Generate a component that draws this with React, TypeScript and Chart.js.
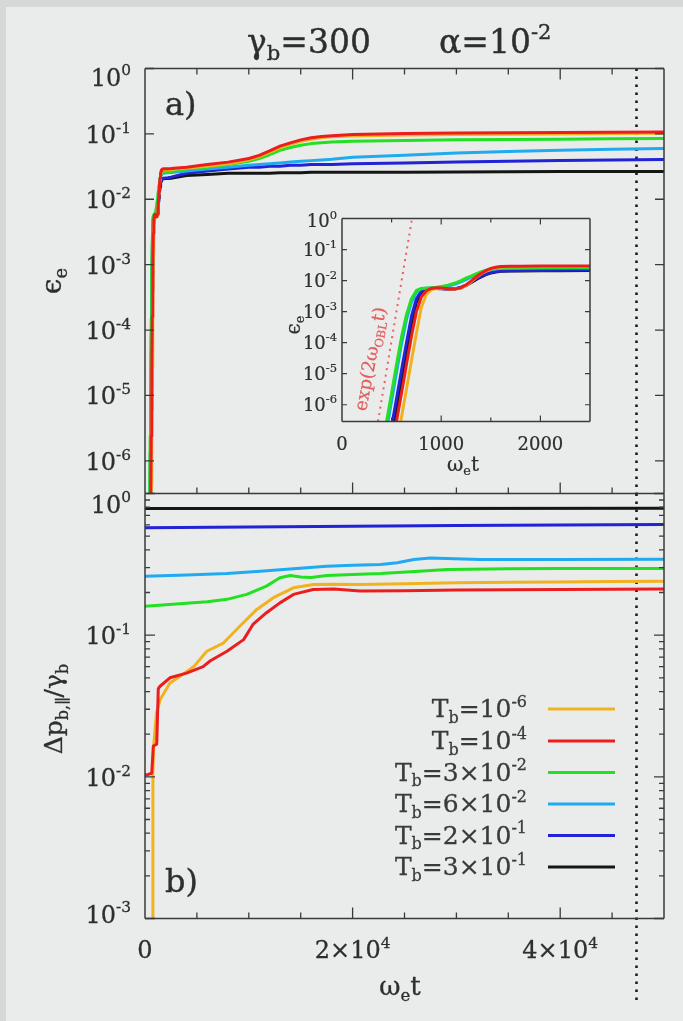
import React, { useEffect, useRef } from "react";
import { Chart, registerables } from "chart.js";

Chart.register(...registerables);

// ---------------- data ----------------
const seriesColors = ["#f0b21e", "#ec1d1d", "#22e022", "#20aaf0", "#2222d6", "#151515"];
const seriesOrder = [1, 0, 2, 3, 4, 5];
const legendCoeff = ["", "", "3×", "6×", "2×", "3×"];
const legendExp = ["-6", "-4", "-2", "-2", "-1", "-1"];

// inset (early growth), shared with the start of panel a
const insetTime = [0, 350, 400, 450, 500, 550, 600, 650, 700, 750, 800, 850, 900, 950, 1000, 1050, 1100, 1150, 1200, 1250, 1300, 1350, 1400, 1450, 1500, 1550, 1600, 1700, 1800, 2000, 2200, 2500];
const insetOrange = [1e-12, 1e-11, 1e-10, 8e-10, 6e-9, 5e-8, 4e-7, 3.2e-6, 2.6e-5, 2e-4, 1.4e-3, 3.6e-3, 5e-3, 5.6e-3, 5.7e-3, 5.6e-3, 5.4e-3, 5.4e-3, 5.7e-3, 6.8e-3, 9e-3, 1.25e-2, 1.63e-2, 2e-2, 2.33e-2, 2.58e-2, 2.72e-2, 2.78e-2, 2.8e-2, 2.82e-2, 2.83e-2, 2.84e-2];
const insetRed = [1e-12, 5e-11, 6e-10, 5e-9, 4e-8, 3e-7, 2.4e-6, 2e-5, 1.6e-4, 1e-3, 3e-3, 4.7e-3, 5.6e-3, 5.9e-3, 5.8e-3, 5.6e-3, 5.4e-3, 5.4e-3, 5.9e-3, 7.2e-3, 9.6e-3, 1.3e-2, 1.7e-2, 2.1e-2, 2.45e-2, 2.7e-2, 2.83e-2, 2.9e-2, 2.92e-2, 2.93e-2, 2.94e-2, 2.95e-2];
const insetGreen = [1e-12, 3e-9, 4e-8, 3e-7, 2.4e-6, 2e-5, 1.5e-4, 8e-4, 2.6e-3, 4.8e-3, 5.6e-3, 5.8e-3, 5.9e-3, 6.1e-3, 6.4e-3, 6.9e-3, 7.6e-3, 8.6e-3, 1e-2, 1.2e-2, 1.4e-2, 1.65e-2, 1.9e-2, 2.15e-2, 2.35e-2, 2.45e-2, 2.5e-2, 2.55e-2, 2.57e-2, 2.6e-2, 2.62e-2, 2.65e-2];
const insetLightBlue = [1e-12, 1.5e-9, 2e-8, 1.6e-7, 1.3e-6, 1.1e-5, 9e-5, 5.5e-4, 2e-3, 4.2e-3, 5.4e-3, 5.7e-3, 5.8e-3, 5.9e-3, 6.1e-3, 6.5e-3, 7.1e-3, 7.9e-3, 9.1e-3, 1.08e-2, 1.28e-2, 1.52e-2, 1.78e-2, 2.02e-2, 2.22e-2, 2.36e-2, 2.43e-2, 2.48e-2, 2.5e-2, 2.52e-2, 2.54e-2, 2.56e-2];
const insetBlue = [1e-12, 2e-10, 3e-9, 2.5e-8, 2e-7, 1.6e-6, 1.3e-5, 1e-4, 7e-4, 2.6e-3, 4.7e-3, 5.5e-3, 5.7e-3, 5.7e-3, 5.6e-3, 5.5e-3, 5.5e-3, 5.6e-3, 6.1e-3, 7.1e-3, 8.8e-3, 1.1e-2, 1.35e-2, 1.6e-2, 1.8e-2, 1.95e-2, 2.03e-2, 2.08e-2, 2.1e-2, 2.12e-2, 2.14e-2, 2.18e-2];
const insetBlack = [1e-12, 8e-11, 1.2e-9, 1e-8, 8e-8, 7e-7, 6e-6, 5e-5, 4e-4, 2e-3, 4.3e-3, 5.3e-3, 5.6e-3, 5.6e-3, 5.5e-3, 5.4e-3, 5.4e-3, 5.5e-3, 5.9e-3, 6.9e-3, 8.5e-3, 1.06e-2, 1.3e-2, 1.55e-2, 1.75e-2, 1.9e-2, 1.98e-2, 2.03e-2, 2.05e-2, 2.07e-2, 2.08e-2, 2.1e-2];

// panel a, later times
const lateTime = [4000, 6000, 8000, 10000, 11000, 12000, 13000, 14000, 15000, 16000, 17000, 18000, 20000, 25000, 30000, 35000, 40000, 45000, 50000];
const lateOrange = [0.030, 0.032, 0.035, 0.040, 0.045, 0.052, 0.061, 0.069, 0.077, 0.083, 0.087, 0.090, 0.093, 0.096, 0.098, 0.099, 0.1, 0.101, 0.102];
const lateRed = [0.031, 0.034, 0.037, 0.042, 0.047, 0.055, 0.065, 0.073, 0.081, 0.087, 0.091, 0.094, 0.098, 0.101, 0.103, 0.104, 0.105, 0.106, 0.107];
const lateGreen = [0.029, 0.031, 0.034, 0.038, 0.042, 0.048, 0.056, 0.062, 0.067, 0.071, 0.073, 0.075, 0.077, 0.079, 0.081, 0.082, 0.083, 0.084, 0.085];
const lateLightBlue = [0.027, 0.029, 0.031, 0.033, 0.034, 0.035, 0.036, 0.037, 0.038, 0.039, 0.040, 0.041, 0.044, 0.047, 0.051, 0.054, 0.056, 0.058, 0.060];
const lateBlue = [0.025, 0.027, 0.029, 0.031, 0.031, 0.032, 0.032, 0.033, 0.033, 0.034, 0.034, 0.034, 0.035, 0.036, 0.037, 0.038, 0.039, 0.040, 0.0405];
const lateBlack = [0.023, 0.024, 0.025, 0.025, 0.025, 0.025, 0.0255, 0.0255, 0.0255, 0.026, 0.026, 0.026, 0.026, 0.026, 0.0262, 0.0264, 0.0265, 0.0266, 0.0267];

// panel b: momentum spread
const bTimeOrange = [0, 300, 700, 760, 850, 1100, 1450, 2400, 3500, 4700, 5950, 7550, 9160, 10770, 12370, 14300, 16230, 18000, 20700, 25000, 30000, 35000, 40000, 45000, 50000];
const bOrange = [1e-6, 1e-5, 2e-4, 0.011, 0.017, 0.028, 0.035, 0.046, 0.052, 0.060, 0.077, 0.088, 0.116, 0.152, 0.184, 0.216, 0.228, 0.229, 0.228, 0.231, 0.234, 0.236, 0.237, 0.239, 0.240];
const bTimeRed = [0, 300, 650, 800, 1130, 1280, 1450, 2400, 4000, 5600, 6300, 7900, 9500, 10400, 11700, 13000, 14300, 16200, 18200, 20700, 25000, 30000, 35000, 40000, 45000, 50000];
const bRed = [0.0103, 0.0104, 0.0106, 0.0165, 0.017, 0.042, 0.0436, 0.050, 0.054, 0.060, 0.066, 0.077, 0.093, 0.119, 0.144, 0.169, 0.194, 0.210, 0.212, 0.205, 0.206, 0.208, 0.209, 0.210, 0.211, 0.212];
const bTimeGreen = [0, 3000, 6000, 7900, 9800, 11700, 13000, 14000, 15000, 16000, 17500, 20000, 22700, 26000, 29100, 35000, 40000, 45000, 50000];
const bGreen = [0.16, 0.166, 0.172, 0.179, 0.194, 0.222, 0.254, 0.264, 0.257, 0.255, 0.264, 0.268, 0.272, 0.282, 0.291, 0.294, 0.295, 0.296, 0.296];
const bTimeLightBlue = [0, 4000, 7900, 11100, 14300, 17500, 20000, 22700, 24300, 25900, 27500, 29000, 32300, 40000, 50000];
const bLightBlue = [0.261, 0.266, 0.272, 0.283, 0.294, 0.307, 0.312, 0.315, 0.324, 0.342, 0.35, 0.347, 0.342, 0.342, 0.343];
const bTimeBlue = [0, 10000, 20000, 30000, 40000, 50000];
const bBlue = [0.573, 0.58, 0.588, 0.595, 0.6, 0.604];
const bTimeBlack = [0, 25000, 50000];
const bBlack = [0.785, 0.785, 0.787];

// reference lines
const verticalTime = [47350, 47350];
const verticalA = [1, 3.16e-7];
const verticalB = [1, 1e-4];
const expTime = [363, 706];
const expValue = [2.9e-7, 1];

// ticks
const xTicks = [5000, 10000, 15000, 20000, 25000, 30000, 35000, 40000, 45000];
const xMajorTicks = [20000, 40000];
const xLabelValues = [0, 20000, 40000];
const xLabelCoeff = ["0", "2×10", "4×10"];
const xLabelExp = ["", "4", "4"];
const aDecades = [0, -1, -2, -3, -4, -5, -6];
const bDecades = [0, -1, -2, -3];
const insetDecades = [0, -1, -2, -3, -4, -5, -6];
const insetXLabels = [0, 1000, 2000];
const insetXTicks = [500, 1000, 1500, 2000];

// ---------------- drawing helpers ----------------
const FONT = '"DejaVu Serif", serif';
const INK = "#2e2e2e";
const AXIS = "#3a3a3a";

type Seg = { t: string; k?: "sub" | "sup" };

function segFont(size: number, k?: string) {
  return `${k ? size * 0.64 : size}px ${FONT}`;
}
function richWidth(ctx: CanvasRenderingContext2D, segs: Seg[], size: number) {
  let w = 0;
  for (const s of segs) {
    ctx.font = segFont(size, s.k);
    w += ctx.measureText(s.t).width;
  }
  return w;
}
function drawRich(ctx: CanvasRenderingContext2D, segs: Seg[], x: number, y: number, size: number, align: "left" | "right" | "center" = "left", color = INK) {
  const w = richWidth(ctx, segs, size);
  let cx = align === "left" ? x : align === "right" ? x - w : x - w / 2;
  ctx.fillStyle = color;
  ctx.strokeStyle = color;
  ctx.lineWidth = size * 0.012;
  ctx.lineJoin = "round";
  ctx.textBaseline = "alphabetic";
  ctx.textAlign = "left";
  for (const s of segs) {
    ctx.font = segFont(size, s.k);
    const dy = s.k === "sup" ? -size * 0.42 : s.k === "sub" ? size * 0.22 : 0;
    ctx.fillText(s.t, cx, y + dy);
    ctx.strokeText(s.t, cx, y + dy);
    cx += ctx.measureText(s.t).width;
  }
}
function drawRichRotated(ctx: CanvasRenderingContext2D, segs: Seg[], x: number, y: number, size: number, angle: number, color = INK) {
  ctx.save();
  ctx.translate(x, y);
  ctx.rotate(angle);
  drawRich(ctx, segs, 0, 0, size, "center", color);
  ctx.restore();
}
const tenPow = (e: number): Seg[] => [{ t: "10" }, { t: String(e), k: "sup" }];

function pts(xs: number[], ys: number[]) {
  return xs.map((x, i) => ({ x, y: ys[i] }));
}

function lineDataset(data: { x: number; y: number }[], i: number) {
  return {
    data,
    borderColor: seriesColors[i],
    backgroundColor: seriesColors[i],
    borderWidth: 3,
    pointRadius: 0,
    tension: 0,
    fill: false,
    order: seriesOrder[i],
    clip: 0,
    borderJoinStyle: "round" as const,
  };
}

function baseOptions(padding: any, xMax: number, yMin: number, yMax: number) {
  return {
    animation: false as const,
    responsive: false,
    maintainAspectRatio: false,
    events: [] as any[],
    layout: { padding },
    scales: {
      x: { type: "linear" as const, min: 0, max: xMax, display: false },
      y: { type: "logarithmic" as const, min: yMin, max: yMax, display: false },
    },
    plugins: { legend: { display: false }, tooltip: { enabled: false }, title: { display: false } },
  };
}

function strokeFrame(ctx: CanvasRenderingContext2D, ca: any, sides: { top?: boolean; bottom?: boolean }) {
  ctx.strokeStyle = AXIS;
  ctx.lineWidth = 1.5;
  ctx.beginPath();
  ctx.moveTo(ca.left, ca.top);
  ctx.lineTo(ca.left, ca.bottom);
  ctx.moveTo(ca.right, ca.top);
  ctx.lineTo(ca.right, ca.bottom);
  if (sides.top !== false) {
    ctx.moveTo(ca.left, ca.top);
    ctx.lineTo(ca.right, ca.top);
  }
  if (sides.bottom !== false) {
    ctx.moveTo(ca.left, ca.bottom);
    ctx.lineTo(ca.right, ca.bottom);
  }
  ctx.stroke();
}

const panelAPlugin = {
  id: "panelA",
  afterDatasetsDraw(chart: any) {
    const { ctx, chartArea: ca, scales } = chart;
    const x = scales.x, y = scales.y;
    ctx.save();
    strokeFrame(ctx, ca, {});
    ctx.lineWidth = 1.3;
    ctx.beginPath();
    for (const v of xTicks) {
      const px = x.getPixelForValue(v);
      const len = xMajorTicks.includes(v) ? 11 : 6;
      ctx.moveTo(px, ca.top);
      ctx.lineTo(px, ca.top + len);
      ctx.moveTo(px, ca.bottom);
      ctx.lineTo(px, ca.bottom - len);
    }
    for (const e of aDecades) {
      const py = y.getPixelForValue(10 ** e);
      ctx.moveTo(ca.left, py);
      ctx.lineTo(ca.left + 9, py);
      ctx.moveTo(ca.right, py);
      ctx.lineTo(ca.right - 9, py);
    }
    ctx.stroke();
    for (const e of aDecades) {
      const py = y.getPixelForValue(10 ** e);
      drawRich(ctx, tenPow(e), 131, py + (e === 0 ? 17 : 9), 24, "right");
    }
    // title
    drawRich(ctx, [{ t: "γ" }, { t: "b", k: "sub" }, { t: "=300" }], 247, 53, 33, "left");
    drawRich(ctx, [{ t: "α=10" }, { t: "-2", k: "sup" }], 439, 53, 33, "left");
    // panel label & axis title
    drawRich(ctx, [{ t: "a)" }], 165, 115, 32, "left");
    drawRichRotated(ctx, [{ t: "ϵ" }, { t: "e", k: "sub" }], 61, 281, 28, -Math.PI / 2);
    ctx.restore();
  },
};

const panelBPlugin = {
  id: "panelB",
  afterDatasetsDraw(chart: any) {
    const { ctx, chartArea: ca, scales } = chart;
    const x = scales.x, y = scales.y;
    ctx.save();
    strokeFrame(ctx, ca, { top: false });
    ctx.lineWidth = 1.3;
    ctx.beginPath();
    for (const v of xTicks) {
      const px = x.getPixelForValue(v);
      const len = xMajorTicks.includes(v) ? 11 : 6;
      ctx.moveTo(px, ca.bottom);
      ctx.lineTo(px, ca.bottom - len);
    }
    for (const e of bDecades) {
      for (let m = 1; m <= 9; m++) {
        const val = m * 10 ** e;
        if (val > 1.0001 || val < 0.00099) continue;
        const py = y.getPixelForValue(val);
        const len = m === 1 ? 10 : 5;
        ctx.moveTo(ca.left, py);
        ctx.lineTo(ca.left + len, py);
        ctx.moveTo(ca.right, py);
        ctx.lineTo(ca.right - len, py);
      }
    }
    ctx.stroke();
    for (const e of bDecades) {
      const py = y.getPixelForValue(10 ** e);
      drawRich(ctx, tenPow(e), 131, py + (e === 0 ? 19 : e === -3 ? 4 : 9), 24, "right");
    }
    xLabelValues.forEach((v, i) => {
      const px = x.getPixelForValue(v);
      const segs: Seg[] = [{ t: xLabelCoeff[i] }];
      if (xLabelExp[i]) segs.push({ t: xLabelExp[i], k: "sup" });
      drawRich(ctx, segs, px, 958, 24, "center");
    });
    drawRich(ctx, [{ t: "ω" }, { t: "e", k: "sub" }, { t: "t" }], 400, 995, 26, "center");
    drawRich(ctx, [{ t: "b)" }], 165, 892, 32, "left");
    drawRichRotated(
      ctx,
      [{ t: "Δp" }, { t: "b,∥", k: "sub" }, { t: "/γ" }, { t: "b", k: "sub" }],
      62,
      709,
      25,
      -Math.PI / 2
    );
    // legend
    const rows = [709, 741, 772.5, 804, 835.5, 867];
    seriesColors.forEach((c, i) => {
      const segs: Seg[] = [{ t: "T" }, { t: "b", k: "sub" }, { t: "=" + legendCoeff[i] + "10" }, { t: legendExp[i], k: "sup" }];
      drawRich(ctx, segs, 527, rows[i] + 8, 25, "right", "#3a3a3a");
      ctx.strokeStyle = c;
      ctx.lineWidth = 3;
      ctx.beginPath();
      ctx.moveTo(548, rows[i]);
      ctx.lineTo(615, rows[i]);
      ctx.stroke();
    });
    ctx.restore();
  },
};

const insetPlugin = {
  id: "inset",
  afterDatasetsDraw(chart: any) {
    const { ctx, chartArea: ca, scales } = chart;
    const x = scales.x, y = scales.y;
    ctx.save();
    strokeFrame(ctx, ca, {});
    ctx.lineWidth = 1.2;
    ctx.beginPath();
    for (const v of insetXTicks) {
      const px = x.getPixelForValue(v);
      const len = v % 1000 === 0 ? 6 : 4;
      ctx.moveTo(px, ca.top);
      ctx.lineTo(px, ca.top + len);
      ctx.moveTo(px, ca.bottom);
      ctx.lineTo(px, ca.bottom - len);
    }
    for (const e of insetDecades) {
      const py = y.getPixelForValue(10 ** e);
      ctx.moveTo(ca.left, py);
      ctx.lineTo(ca.left + 5, py);
      ctx.moveTo(ca.right, py);
      ctx.lineTo(ca.right - 5, py);
    }
    ctx.stroke();
    for (const e of insetDecades) {
      const py = y.getPixelForValue(10 ** e);
      drawRich(ctx, tenPow(e), 337, py + (e === 0 ? 8 : 6), 18, "right");
    }
    for (const v of insetXLabels) {
      drawRich(ctx, [{ t: String(v) }], x.getPixelForValue(v), 450, 18, "center");
    }
    drawRich(ctx, [{ t: "ω" }, { t: "e", k: "sub" }, { t: "t" }], 463, 471, 20, "center");
    drawRichRotated(ctx, [{ t: "ϵ" }, { t: "e", k: "sub" }], 300, 325, 20, -Math.PI / 2);
    drawRichRotated(
      ctx,
      [{ t: "exp(2ω" }, { t: "OBL", k: "sub" }, { t: "t)" }],
      376,
      360,
      18,
      (-79 * Math.PI) / 180,
      "#e25c5c"
    );
    ctx.restore();
  },
};

export default function App() {
  const refA = useRef<HTMLCanvasElement>(null);
  const refB = useRef<HTMLCanvasElement>(null);
  const refI = useRef<HTMLCanvasElement>(null);

  useEffect(() => {
    const insetSeries = [insetOrange, insetRed, insetGreen, insetLightBlue, insetBlue, insetBlack];
    const lateSeries = [lateOrange, lateRed, lateGreen, lateLightBlue, lateBlue, lateBlack];
    const bTimes = [bTimeOrange, bTimeRed, bTimeGreen, bTimeLightBlue, bTimeBlue, bTimeBlack];
    const bSeries = [bOrange, bRed, bGreen, bLightBlue, bBlue, bBlack];

    const dotted = (data: any, clip: any) => ({
      data,
      borderColor: "#1a1a1a",
      borderWidth: 2.6,
      borderDash: [2.6, 5.4],
      pointRadius: 0,
      tension: 0,
      fill: false,
      order: 20,
      clip,
    });

    const chartA = new Chart(refA.current!, {
      type: "line",
      data: {
        datasets: [
          ...insetSeries.map((s, i) =>
            lineDataset(pts(insetTime.concat(lateTime), s.concat(lateSeries[i])), i)
          ),
          dotted(pts(verticalTime, verticalA), 0),
        ] as any,
      },
      options: baseOptions({ left: 145, top: 68.5, right: 19, bottom: 527.5 }, 50000, 10 ** -6.5, 1) as any,
      plugins: [panelAPlugin],
    });

    const chartB = new Chart(refB.current!, {
      type: "line",
      data: {
        datasets: [
          ...bSeries.map((s, i) => lineDataset(pts(bTimes[i], s), i)),
          dotted(pts(verticalTime, verticalB), { left: 0, top: 0, right: 0, bottom: 84 }),
        ] as any,
      },
      options: baseOptions({ left: 145, top: 493.5, right: 19, bottom: 102.5 }, 50000, 1e-3, 1) as any,
      plugins: [panelBPlugin],
    });

    const chartI = new Chart(refI.current!, {
      type: "line",
      data: {
        datasets: [
          ...insetSeries.map((s, i) => lineDataset(pts(insetTime, s), i)),
          {
            data: pts(expTime, expValue),
            borderColor: "#e86060",
            borderWidth: 2,
            borderDash: [2, 4.5],
            pointRadius: 0,
            tension: 0,
            fill: false,
            order: -1,
            clip: 0,
          },
        ] as any,
      },
      options: baseOptions({ left: 342, top: 218.5, right: 93, bottom: 599.5 }, 2500, 10 ** -6.54, 1) as any,
      plugins: [insetPlugin],
    });

    return () => {
      chartA.destroy();
      chartB.destroy();
      chartI.destroy();
    };
  }, []);

  const cv: React.CSSProperties = { position: "absolute", left: 0, top: 0, width: 683, height: 1021 };
  return (
    <div style={{ position: "fixed", left: 0, top: 0, width: 683, height: 1021, background: "#eaecec", overflow: "hidden" }}>
      <div style={{ position: "absolute", left: 0, top: 0, width: 683, height: 7, background: "#d6d8d8" }} />
      <div style={{ position: "absolute", left: 0, top: 0, width: 6, height: 1021, background: "#d6d8d8" }} />
      <canvas ref={refA} width={683} height={1021} style={cv} />
      <canvas ref={refB} width={683} height={1021} style={cv} />
      <canvas ref={refI} width={683} height={1021} style={cv} />
    </div>
  );
}
